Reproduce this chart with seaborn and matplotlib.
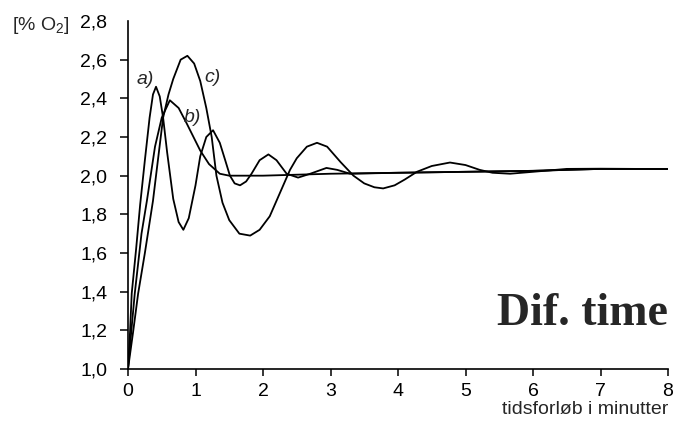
import matplotlib
matplotlib.use("Agg")
import matplotlib.pyplot as plt
import seaborn as sns
import pandas as pd

# ---- data ----
a_x = [0, 0.03, 0.055, 0.12, 0.18, 0.25, 0.32, 0.37, 0.415, 0.47, 0.52, 0.58, 0.67, 0.75, 0.82,
       0.9, 1.0, 1.07, 1.16, 1.26, 1.36, 1.44, 1.51, 1.58, 1.66, 1.75, 1.83, 1.95, 2.08, 2.2,
       2.35, 2.52, 2.7, 2.94, 3.1, 3.29, 4, 5, 6, 7, 8]
a_y = [1.0, 1.19, 1.39, 1.62, 1.85, 2.08, 2.3, 2.42, 2.46, 2.41, 2.30, 2.12, 1.88, 1.76, 1.72,
       1.78, 1.95, 2.1, 2.2, 2.235, 2.17, 2.08, 2.0, 1.96, 1.95, 1.97, 2.01, 2.08, 2.11, 2.08,
       2.01, 1.99, 2.01, 2.04, 2.03, 2.01, 2.015, 2.02, 2.025, 2.035, 2.035]

b_x = [0, 0.05, 0.10, 0.2, 0.28, 0.4, 0.5, 0.62, 0.75, 0.87, 0.97, 1.07, 1.2, 1.36, 1.5,
       2, 3, 4, 5, 6, 7, 8]
b_y = [1.0, 1.2, 1.39, 1.7, 1.87, 2.15, 2.3, 2.39, 2.35, 2.27, 2.2, 2.13, 2.06, 2.01, 2.0,
       2.0, 2.01, 2.015, 2.02, 2.025, 2.035, 2.035]

c_x = [0, 0.075, 0.15, 0.25, 0.37, 0.45, 0.52, 0.6, 0.67, 0.78, 0.88, 0.98, 1.07, 1.16, 1.24,
       1.31, 1.4, 1.5, 1.65, 1.81, 1.95, 2.1, 2.2, 2.3, 2.4, 2.5, 2.65, 2.8, 2.95, 3.15, 3.34,
       3.5, 3.65, 3.78, 3.95, 4.1, 4.28, 4.5, 4.77, 5.0, 5.21, 5.4, 5.66, 6.0, 6.5, 7, 8]
c_y = [1.0, 1.19, 1.39, 1.6, 1.87, 2.1, 2.3, 2.42, 2.5, 2.6, 2.62, 2.58, 2.49, 2.35, 2.2,
       2.0, 1.86, 1.77, 1.70, 1.69, 1.72, 1.79, 1.87, 1.95, 2.03, 2.09, 2.15, 2.17, 2.15, 2.07, 2.0,
       1.96, 1.94, 1.934, 1.95, 1.98, 2.02, 2.05, 2.068, 2.055, 2.03, 2.015, 2.01, 2.02, 2.035, 2.036, 2.034]

curve_labels = ["a)", "b)", "c)"]
y_ticks = [1.0, 1.2, 1.4, 1.6, 1.8, 2.0, 2.2, 2.4, 2.6, 2.8]
y_tick_labels = ["1,0", "1,2", "1,4", "1,6", "1,8", "2,0", "2,2", "2,4", "2,6", "2,8"]
x_ticks = [0, 1, 2, 3, 4, 5, 6, 7, 8]

sns.set_style("ticks")
plt.rcParams["font.family"] = ["Liberation Sans", "DejaVu Sans"]
plt.rcParams["mathtext.fontset"] = "custom"
plt.rcParams["mathtext.rm"] = "Liberation Sans"
plt.rcParams["mathtext.it"] = "Liberation Sans:italic"

fig = plt.figure(figsize=(6.77, 4.21), dpi=100)
ax = fig.add_axes([128 / 677, 1 - 369 / 421, 540 / 677, 348 / 421])

for xs, ys in [(a_x, a_y), (b_x, b_y), (c_x, c_y)]:
    df = pd.DataFrame({"t": xs, "o2": ys})
    sns.lineplot(data=df, x="t", y="o2", ax=ax, color="black", linewidth=1.3,
                 sort=False, estimator=None)

ax.set_xlim(0, 8)
ax.set_ylim(1.0, 2.8)
ax.set_xticks(x_ticks)
ax.set_xticklabels([str(t) for t in x_ticks])
ax.set_yticks(y_ticks)
ax.set_yticklabels(y_tick_labels)
ax.yaxis.get_major_ticks()[-1].tick1line.set_visible(False)
ax.set_xlabel("")
ax.set_ylabel("")
sns.despine(ax=ax)
for s in ["left", "bottom"]:
    ax.spines[s].set_linewidth(1.2)
    ax.spines[s].set_color("black")
ax.tick_params(axis="both", labelsize=14, colors="black", width=1.1)
ax.tick_params(axis="y", length=6, pad=9)
ax.tick_params(axis="x", length=5, pad=5)

# curve labels
label_pos = [(0.25, 2.50), (0.95, 2.30), (1.25, 2.51)]
for lab, (lx, ly) in zip(curve_labels, label_pos):
    ax.text(lx, ly, lab, fontsize=14, style="italic", ha="center", va="center",
            family=["Liberation Sans", "DejaVu Sans"])

ax.text(1.0, 0.126, "Dif. time", transform=ax.transAxes, ha="right", va="baseline",
        fontsize=33, fontweight="bold", family=["Liberation Serif", "DejaVu Serif"])

fig.text(70 / 677, 1 - 25 / 421, "[% O$_2$]", ha="right", va="center", fontsize=14)
fig.text(668 / 677, 1 - 410 / 421, "tidsforløb i minutter", ha="right", va="center", fontsize=14)

fig.savefig("out.png", dpi=100)
